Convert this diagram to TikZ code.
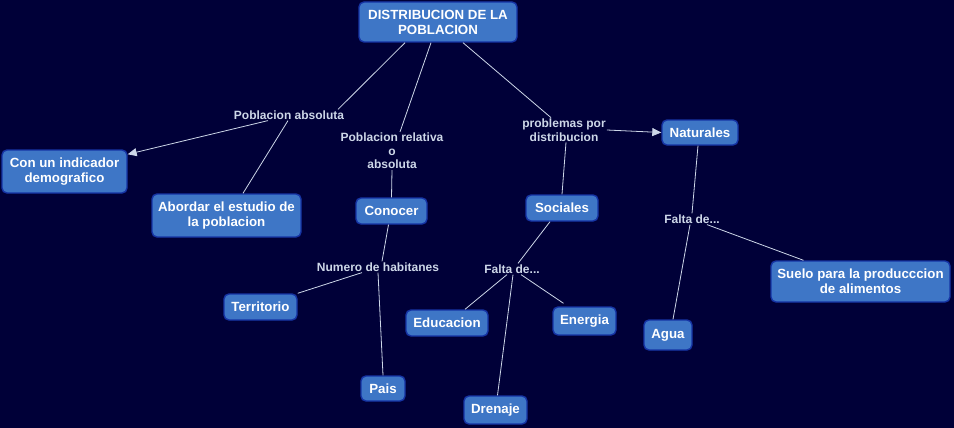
\documentclass[tikz,border=0pt]{standalone}
\usepackage{fontspec}
\setmainfont{Liberation Sans}
\usetikzlibrary{arrows.meta, positioning}
\definecolor{bgcol}{RGB}{0,0,56}
\definecolor{boxcol}{RGB}{62,118,198}
\definecolor{rimcol}{RGB}{22,52,165}
\definecolor{linecol}{RGB}{205,215,232}
\begin{document}
\begin{tikzpicture}[
  x=1pt, y=-1pt,
  box/.style={draw=rimcol, line width=1.4pt, fill=boxcol, rounded corners=5pt, align=center,
    text=white, font=\fontsize{13.3}{15}\selectfont\bfseries, inner sep=2pt},
  tag/.style={align=center, text=linecol, inner sep=1pt, font=\fontsize{12}{13.5}\selectfont\bfseries},
  link/.style={draw=linecol, line width=0.8pt},
  arrow/.style={link, -{Triangle[length=9pt, width=8pt]}}
]
\fill[bgcol] (0,0) rectangle (954,428);
\useasboundingbox (0,0) rectangle (954,428);
% boxes
\node[box, minimum width=158pt, minimum height=40pt] (root) at (438,22) {DISTRIBUCION DE LA\\POBLACION};
\node[box, minimum width=125pt, minimum height=43pt] (con) at (64.5,171.5) {Con un indicador\\demografico};
\node[box, minimum width=149pt, minimum height=43pt] (abordar) at (226.5,215.5) {Abordar el estudio de\\la poblacion};
\node[box, minimum width=71pt, minimum height=26pt] (conocer) at (391.5,211) {Conocer};
\node[box, minimum width=72pt, minimum height=26pt] (sociales) at (562,208) {Sociales};
\node[box, minimum width=76pt, minimum height=25pt] (naturales) at (700,132.5) {Naturales};
\node[box, minimum width=179pt, minimum height=41pt] (suelo) at (860.5,281.5) {Suelo para la producccion\\de alimentos};
\node[box, minimum width=73pt, minimum height=26pt] (territorio) at (260.5,307) {Territorio};
\node[box, minimum width=82pt, minimum height=26pt] (educacion) at (447,323) {Educacion};
\node[box, minimum width=63pt, minimum height=28pt] (energia) at (584.5,321) {Energia};
\node[box, minimum width=44pt, minimum height=25pt] (pais) at (383,388.5) {Pais};
\node[box, minimum width=63pt, minimum height=28pt] (drenaje) at (495.5,410) {Drenaje};
\node[box, minimum width=48pt, minimum height=30pt] (agua) at (668,335) {Agua};
% link labels
\node[tag] (pabs) at (289,115) {Poblacion absoluta};
\node[tag] (prel) at (392,151) {Poblacion relativa\\o\\absoluta};
\node[tag] (prob) at (564,130) {problemas por\\distribucion};
\node[tag] (numhab) at (378,267) {Numero de habitanes};
\node[tag] (falta1) at (512,269) {Falta de...};
\node[tag] (falta2) at (692,219) {Falta de...};
% connectors
\draw[link] ([xshift=-33pt]root.south) -- ([xshift=49pt]pabs.north);
\draw[arrow] ([xshift=-21pt]pabs.south) -- ([yshift=-5pt]con.north east);
\draw[link] ([xshift=-1pt]pabs.south) -- ([xshift=16.5pt]abordar.north);
\draw[link] ([xshift=-7pt]root.south) -- ([xshift=8pt]prel.north);
\draw[link] (prel.south) -- (conocer.north);
\draw[link] ([xshift=25pt]root.south) -- ([xshift=-13pt]prob.north);
\draw[arrow] (prob.east) -- (naturales.west);
\draw[link] ([xshift=2pt]prob.south) -- (sociales.north);
\draw[link] ([xshift=-3pt]conocer.south) -- ([xshift=4pt]numhab.north);
\draw[link] ([xshift=-16pt]numhab.south) -- (territorio.north east);
\draw[link] (numhab.south) -- (pais.north);
\draw[link] ([xshift=-12pt]sociales.south) -- ([xshift=6pt]falta1.north);
\draw[link] ([xshift=-5pt]falta1.south) -- ([xshift=18pt]educacion.north);
\draw[link] ([xshift=1pt]falta1.south) -- ([xshift=2pt]drenaje.north);
\draw[link] ([xshift=9pt]falta1.south) -- ([xshift=-21pt,yshift=3pt]energia.north);
\draw[link] ([xshift=-2pt]naturales.south) -- (falta2.north);
\draw[link] ([xshift=-2pt]falta2.south) -- ([xshift=5pt]agua.north);
\draw[link] ([xshift=15pt]falta2.south) -- ([xshift=-57pt]suelo.north);
\end{tikzpicture}
\end{document}
